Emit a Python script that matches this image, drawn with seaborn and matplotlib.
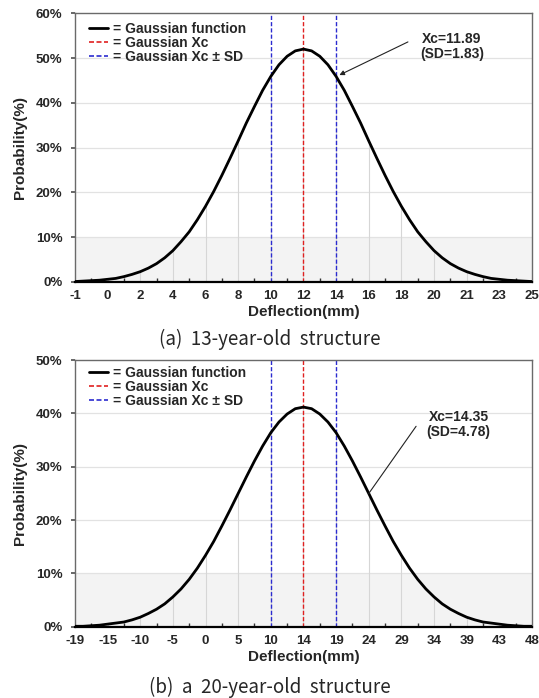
import numpy as np
import pandas as pd
import matplotlib
matplotlib.use("Agg")
import matplotlib.pyplot as plt
from matplotlib.lines import Line2D
import seaborn as sns

# ---------------- data ----------------
# position of each curve point, in units of SD away from Xc
offset_sd = [-7.0, -6.75, -6.5, -6.25, -6.0, -5.75, -5.5, -5.25, -5.0, -4.75, -4.5, -4.25,
             -4.0, -3.75, -3.5, -3.25, -3.0, -2.75, -2.5, -2.25, -2.0, -1.75, -1.5, -1.25,
             -1.0, -0.75, -0.5, -0.25, 0.0, 0.25, 0.5, 0.75, 1.0, 1.25, 1.5, 1.75, 2.0,
             2.25, 2.5, 2.75, 3.0, 3.25, 3.5, 3.75, 4.0, 4.25, 4.5, 4.75, 5.0, 5.25, 5.5,
             5.75, 6.0, 6.25, 6.5, 6.75, 7.0]

top_xc, top_sd = 11.89, 1.83
bot_xc, bot_sd = 14.35, 4.78

top_prob = [0.1, 0.2, 0.3, 0.4, 0.6, 0.8, 1.2, 1.7, 2.3, 3.1, 4.1, 5.4, 7.0, 9.0, 11.2,
            13.9, 16.9, 20.2, 23.8, 27.6, 31.5, 35.5, 39.2, 42.8, 45.9, 48.5, 50.4, 51.6,
            52.0,
            51.6, 50.4, 48.5, 45.9, 42.8, 39.2, 35.5, 31.5, 27.6, 23.8, 20.2, 16.9, 13.9,
            11.2, 9.0, 7.0, 5.4, 4.1, 3.1, 2.3, 1.7, 1.2, 0.8, 0.6, 0.4, 0.3, 0.2, 0.1]
bot_prob = [0.1, 0.1, 0.2, 0.3, 0.5, 0.7, 0.9, 1.3, 1.8, 2.5, 3.3, 4.3, 5.6, 7.1, 8.9,
            11.0, 13.4, 16.0, 18.9, 21.9, 25.0, 28.1, 31.1, 33.9, 36.4, 38.4, 39.9, 40.9,
            41.2,
            40.9, 39.9, 38.4, 36.4, 33.9, 31.1, 28.1, 25.0, 21.9, 18.9, 16.0, 13.4, 11.0,
            8.9, 7.1, 5.6, 4.3, 3.3, 2.5, 1.8, 1.3, 0.9, 0.7, 0.5, 0.3, 0.2, 0.1, 0.1]

top_ticklabels = ["-1", "0", "2", "4", "6", "8", "10", "12", "14", "16", "18", "20", "21", "23", "25"]
bot_ticklabels = ["-19", "-15", "-10", "-5", "0", "5", "10", "14", "19", "24", "29", "34", "39", "43", "48"]

top_yticks = [0, 10, 20, 30, 40, 50, 60]
bot_yticks = [0, 10, 20, 30, 40, 50]

legend_labels = ["= Gaussian function", "= Gaussian Xc", "= Gaussian Xc \u00b1 SD"]
top_note = "Xc=11.89\n(SD=1.83)"
bot_note = "Xc=14.35\n(SD=4.78)"
captions = ["(a)  13-year-old  structure", "(b)  a  20-year-old  structure"]
xlabel = "Deflection(mm)"
ylabel = "Probability(%)"

# ---------------- style ----------------
sns.set_theme(style="white")
plt.rcParams["font.family"] = ["Liberation Sans", "DejaVu Sans"]

fig = plt.figure(figsize=(5.39, 6.98), dpi=100)
ax1 = fig.add_axes([0.139, 0.596, 0.848, 0.385])
ax2 = fig.add_axes([0.139, 0.102, 0.848, 0.382])

RED = "#e02020"
BLUE = "#2b2bd0"
DASH = (0, (3, 1.5))


def panel(ax, xc, sd, prob, ticklabels, yticks, note, note_xy, line_start, target, arrow, leg_y):
    x = [xc + o * sd for o in offset_sd]
    df = pd.DataFrame({"x": x, "p": prob})
    ymax = yticks[-1]
    xmin, xmax = xc - 7 * sd, xc + 7 * sd

    ax.set_facecolor("white")
    ax.axhspan(0, 10, color="#f3f3f3", zorder=0, lw=0)
    for yv in yticks[1:-1]:
        ax.axhline(yv, color="#e2e2e2", lw=0.9, zorder=1)

    # droplines from the curve down to the axis at each tick
    for i, o in enumerate(offset_sd):
        if float(o).is_integer() and abs(o) < 7:
            ax.vlines(xc + o * sd, 0, prob[i], color="#d6d6d6", lw=0.8, zorder=1)

    ax.axvline(xc - sd, color=BLUE, lw=1.0, ls=DASH, zorder=2)
    ax.axvline(xc + sd, color=BLUE, lw=1.0, ls=DASH, zorder=2)
    ax.axvline(xc, color=RED, lw=1.0, ls=DASH, zorder=2)

    sns.lineplot(data=df, x="x", y="p", ax=ax, color="black", lw=2.0, zorder=3,
                 solid_joinstyle="round", solid_capstyle="round")

    ax.set_xlim(xmin, xmax)
    ax.set_ylim(0, ymax)
    ax.set_xticks([xc + k * sd for k in range(-7, 8)])
    ax.set_xticklabels(ticklabels, fontsize=9.5, fontweight="bold")
    ax.set_xticks([xc + (k + 0.5) * sd for k in range(-7, 7)], minor=True)
    ax.set_yticks(yticks)
    ax.set_yticklabels([f"{v}%" for v in yticks], fontsize=9.5, fontweight="bold")
    ax.tick_params(axis="x", which="major", length=0, pad=6)
    ax.tick_params(axis="x", which="minor", length=3, direction="in", color="#333333", bottom=True)
    ax.tick_params(axis="y", which="major", length=3, direction="out", color="#555555", left=True, pad=6)
    ax.set_xlabel(xlabel, fontsize=11, fontweight="bold", labelpad=2)
    ax.set_ylabel(ylabel, fontsize=11, fontweight="bold", labelpad=6)

    for s in ["top", "right", "left"]:
        ax.spines[s].set_color("#6a6a6a")
        ax.spines[s].set_linewidth(1.0)
    ax.spines["bottom"].set_color("black")
    ax.spines["bottom"].set_linewidth(1.6)

    handles = [Line2D([], [], color="black", lw=2.0),
               Line2D([], [], color=RED, lw=1.2, ls=DASH),
               Line2D([], [], color=BLUE, lw=1.2, ls=DASH)]
    ax.legend(handles, legend_labels, loc="upper left", frameon=False,
              prop={"weight": "bold", "size": 10}, handlelength=1.4, handletextpad=0.35,
              labelspacing=0.0, borderpad=0.4, borderaxespad=0.6, bbox_to_anchor=(0.0, leg_y))

    ax.text(xc + note_xy[0] * sd, note_xy[1], note, ha="center", va="center",
            fontsize=10, fontweight="bold", linespacing=1.05, zorder=4)
    ax.annotate("", xy=(xc + target[0] * sd, target[1]),
                xytext=(xc + line_start[0] * sd, line_start[1]),
                arrowprops=dict(arrowstyle=arrow, color="#222222", lw=0.8,
                                shrinkA=0, shrinkB=0, mutation_scale=7), zorder=4)


panel(ax1, top_xc, top_sd, top_prob, top_ticklabels, top_yticks, top_note,
      (4.55, 52.6), (3.2, 53.6), (1.1, 46.2), "-|>", 1.02)
panel(ax2, bot_xc, bot_sd, bot_prob, bot_ticklabels, bot_yticks, bot_note,
      (4.75, 37.9), (3.45, 37.6), (2.0, 25.0), "-", 1.03)

cap_font = ["Noto Sans CJK KR", "DejaVu Sans"]
fig.text(0.5, 1 - 339 / 698, captions[0], ha="center", va="center", fontsize=13.5, family=cap_font)
fig.text(0.5, 1 - 687 / 698, captions[1], ha="center", va="center", fontsize=13.5, family=cap_font)

fig.savefig("out.png", dpi=100)
